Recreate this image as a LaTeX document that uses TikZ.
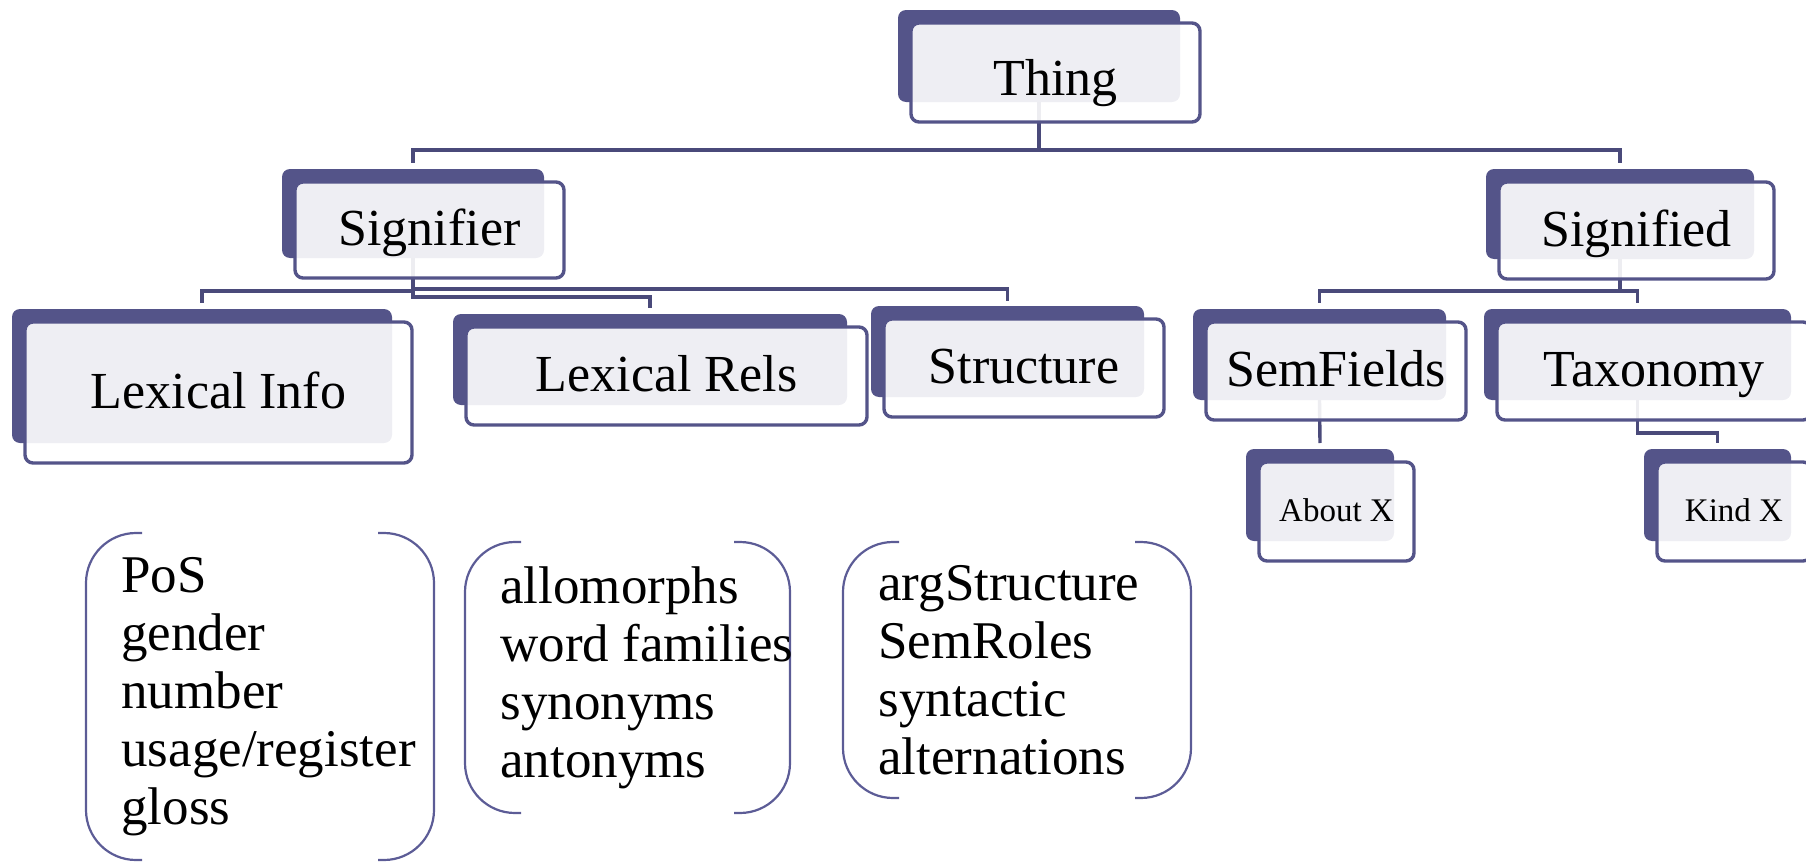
\documentclass[tikz,border=0pt]{standalone}
\usepackage{fontspec}
\setmainfont{Liberation Serif}

\definecolor{tierdark}{RGB}{84,84,137}
\definecolor{tierline}{RGB}{74,74,122}
\definecolor{listline}{RGB}{92,92,150}

\pgfdeclarelayer{back}
\pgfdeclarelayer{front}
\pgfsetlayers{back,main,front}

\tikzset{
    backbox/.style={fill=tierdark, rounded corners=4pt, anchor=north west, inner sep=0pt, outer sep=0pt},
    frontbox/.style={draw=tierdark, line width=1.7pt, fill=white, fill opacity=0.9, text opacity=1,
        rounded corners=4pt, anchor=north west, inner sep=0pt, outer sep=0pt,
        text height=18.2pt, text depth=2.6pt, font=\fontsize{26}{30}\selectfont},
    smalltext/.style={font=\fontsize{16.5}{20}\selectfont, text height=11.5pt, text depth=1.6pt},
    link/.style={draw=tierline, line width=1.7pt},
    listbrace/.style={draw=listline, line width=1.1pt, rounded corners=25pt},
    listtext/.style={align=left, anchor=west, inner sep=0pt, font=\fontsize{26.5}{29}\selectfont},
}

\newcommand\tierbox[7][]{
    \begin{pgfonlayer}{back}
        \node[backbox, minimum width=#5*0.5pt, minimum height=#6*0.5pt] (#2) at (#3,#4) {};
    \end{pgfonlayer}
    \begin{pgfonlayer}{front}
        \node[frontbox, minimum width=(#5+7)*0.5pt, minimum height=(#6+7)*0.5pt, #1] (#2-f)
            at ([shift={(13,13)}]#2.north west) {#7};
    \end{pgfonlayer}
}
\newcommand\listbox[6]{
    \node[inner sep=0pt, outer sep=0pt, anchor=north west,
        minimum width=#4*0.5pt, minimum height=#5*0.5pt] (#1) at (#2,#3) {};
    \draw[listbrace] ([xshift=28pt]#1.north west) -| (#1.south west) -- ([xshift=28pt]#1.south west);
    \draw[listbrace] ([xshift=-28pt]#1.north east) -| (#1.south east) -- ([xshift=-28pt]#1.south east);
    \node[listtext] (#1-t) at ([xshift=17.5pt]#1.west) {#6};
}

\begin{document}
\begin{tikzpicture}[x=0.5pt, y=-0.5pt]
    \useasboundingbox (0,0) rectangle (1806,862);

    \tierbox[text height=26pt]{thing}{898}{10}{282}{92}{Thing}

    \tierbox{signifier}{282}{169}{262}{89}{Signifier}
    \tierbox{signified}{1486}{169}{268}{90}{Signified}

    \tierbox{lexinfo}{12}{309}{380}{134}{Lexical Info}
    \tierbox{lexrels}{453}{314}{394}{91}{Lexical Rels}
    \tierbox{structure}{871}{306}{273}{91}{Structure}
    \tierbox{semfields}{1193}{309}{253}{91}{SemFields}
    \tierbox{taxonomy}{1484}{309}{307}{91}{Taxonomy}

    \tierbox[smalltext]{aboutx}{1246}{449}{148}{92}{About X}
    \tierbox[smalltext]{kindx}{1644}{449}{147}{92}{Kind X}

    \draw[link] (thing.south) -- ++(0,48) -| ([yshift=3pt]signifier.north);
    \draw[link] (thing.south) -- ++(0,48) -| ([yshift=3pt]signified.north);

    \draw[link] (signifier.south) -- ++(0,33) -| ([yshift=3pt]lexinfo.north);
    \draw[link] (signifier.south) -- ++(0,39) -| ([yshift=3pt]lexrels.north);
    \draw[link] (signifier.south) -- ++(0,31) -| ([yshift=2.5pt]structure.north);

    \draw[link] (signified.south) -- ++(0,32) -| ([yshift=3pt]semfields.north);
    \draw[link] (signified.south) -- ++(0,32) -| ([yshift=3pt]taxonomy.north);

    \draw[link] (semfields.south) -- ([yshift=3pt]aboutx.north);
    \draw[link] (taxonomy.south) -- ++(0,33) -| ([yshift=3pt]kindx.north);

    \listbox{infolist}{86}{533}{348}{327}{PoS\\gender\\number\\usage/register\\gloss}
    \listbox{relslist}{465}{542}{325}{271}{allomorphs\\word families\\synonyms\\antonyms}
    \listbox{structlist}{843}{542}{348}{256}{argStructure\\SemRoles\\syntactic\\alternations}
\end{tikzpicture}
\end{document}
